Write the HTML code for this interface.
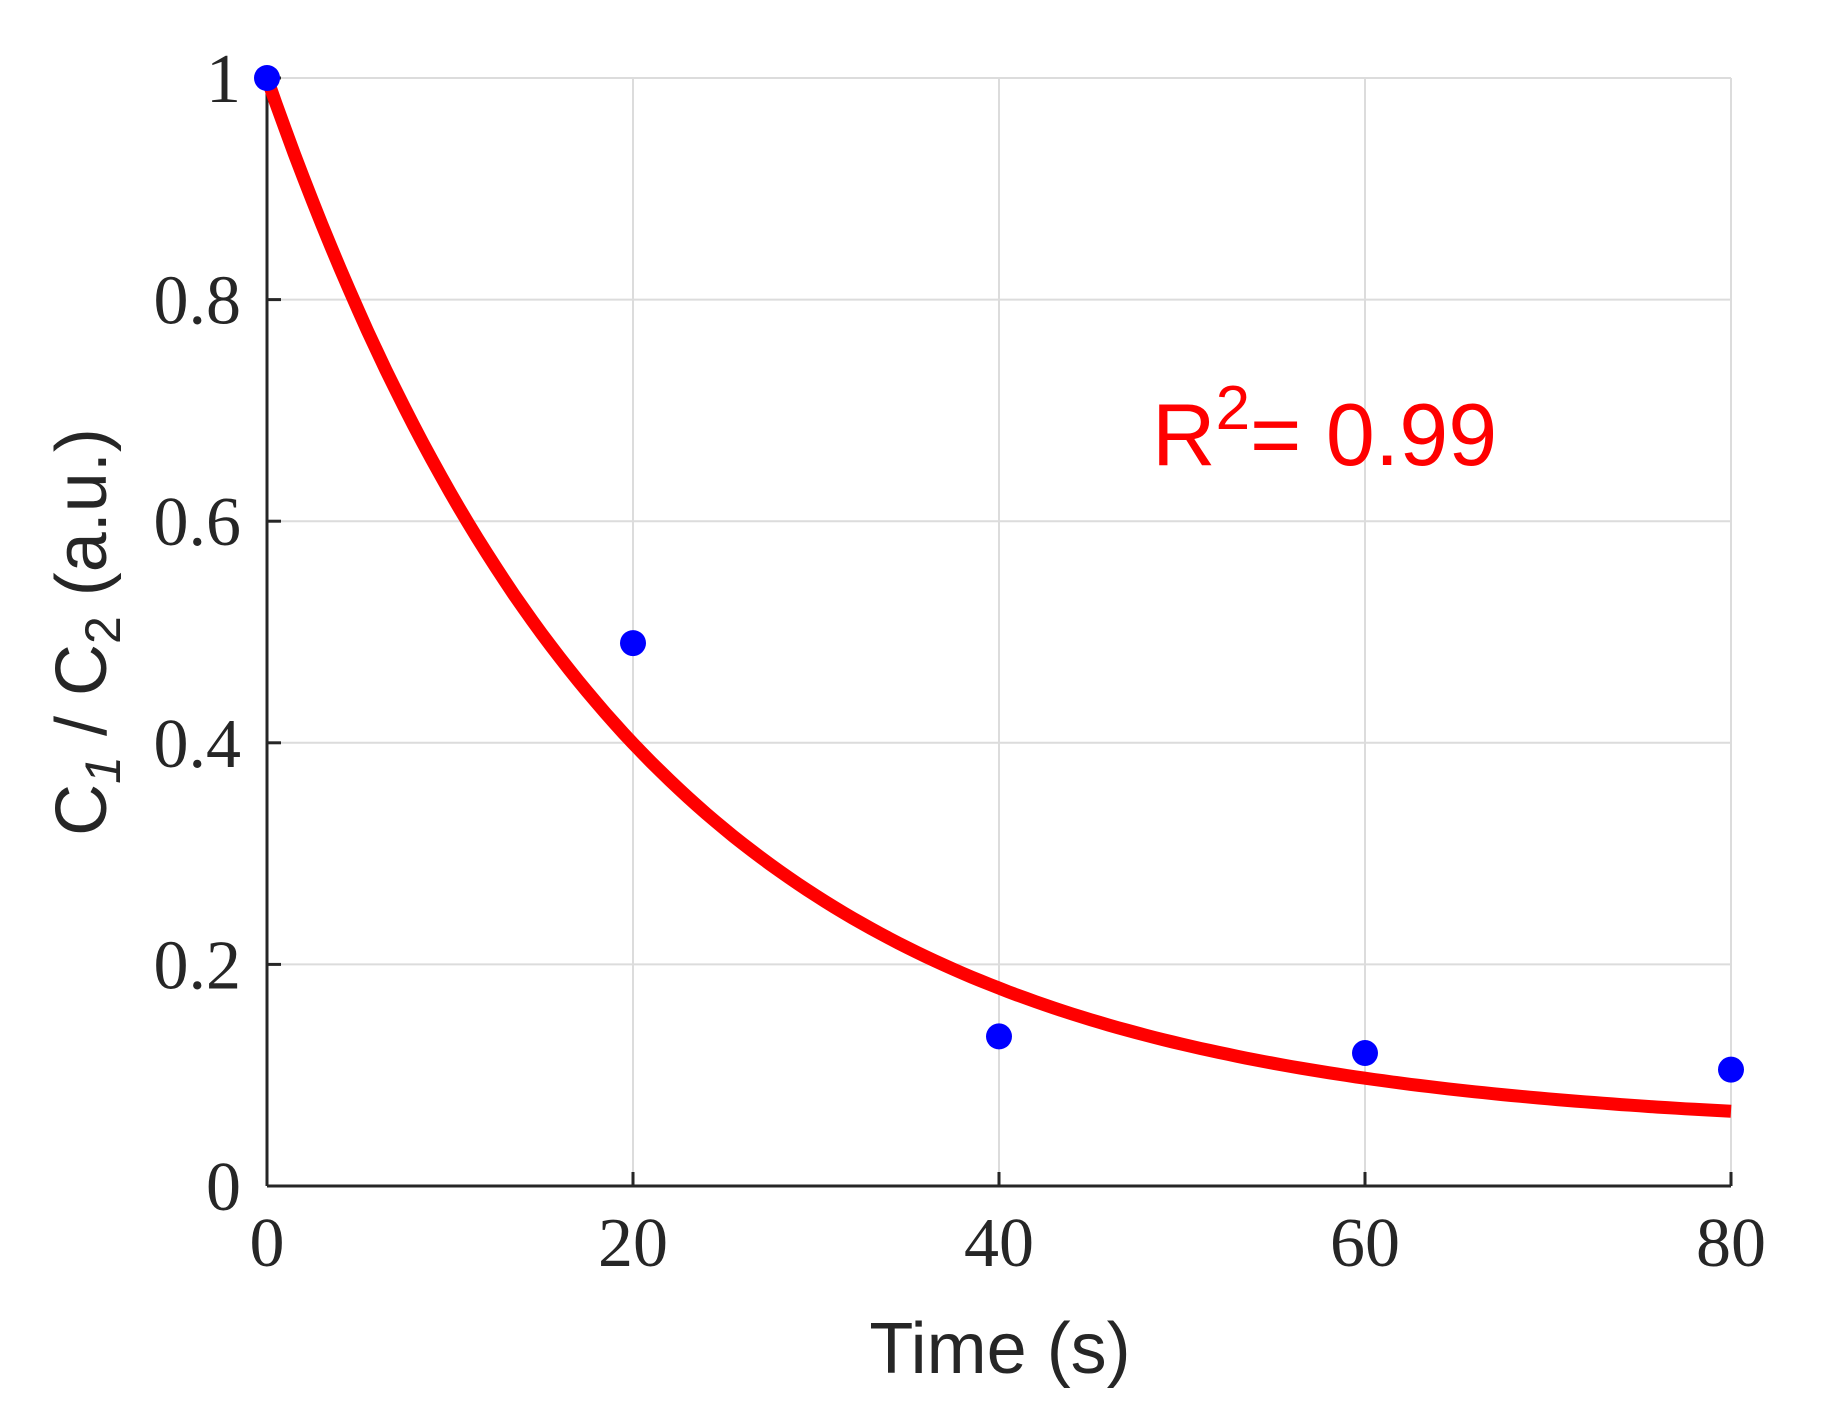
<!DOCTYPE html>
<html><head><meta charset="utf-8"><style>
html,body{margin:0;padding:0;background:#fff;}
svg{display:block;}
.tick{font-family:"Liberation Serif",serif;font-size:70px;fill:#262626;}
.lab{font-family:"Liberation Sans",sans-serif;font-size:72px;fill:#262626;}
</style></head><body>
<svg id="chart" width="1822" height="1414" viewBox="0 0 1822 1414" xmlns="http://www.w3.org/2000/svg">
<g id="grid"></g>
<g id="axes"></g>
<g id="marks"></g>
<text x="1152" y="465" font-family="Liberation Sans, sans-serif" font-size="88" fill="#ff0000">R<tspan dy="-36" font-size="62">2</tspan><tspan dy="36">= 0.99</tspan></text>
<text class="lab" x="1000" y="1373" text-anchor="middle">Time (s)</text>
<text class="lab" transform="translate(106,632) rotate(-90)" text-anchor="middle">C<tspan dy="14" font-size="50" font-style="italic">1</tspan><tspan dy="-14"> / C</tspan><tspan dy="14" font-size="50">2</tspan><tspan dy="-14"> (a.u.)</tspan></text>
</svg>
<script>
const xTicks = [0, 20, 40, 60, 80];
const yTicks = [0, 0.2, 0.4, 0.6, 0.8, 1];
const yTickLabels = ["0", "0.2", "0.4", "0.6", "0.8", "1"];
const times = [0, 20, 40, 60, 80];
const ratios = [1, 0.49, 0.135, 0.12, 0.105];
const fitAmplitude = [0.95];
const fitRate = [0.05];
const fitOffset = [0.05];

const NS = "http://www.w3.org/2000/svg";
const X0 = 267, X1 = 1731, Y0 = 1186, Y1 = 78;
function sx(v){ return X0 + (v - 0) / (80 - 0) * (X1 - X0); }
function sy(v){ return Y0 - (v - 0) / (1 - 0) * (Y0 - Y1); }
function mk(tag, attrs, parent){ const e = document.createElementNS(NS, tag); for (const k in attrs) e.setAttribute(k, attrs[k]); parent.appendChild(e); return e; }

const grid = document.getElementById('grid'), axes = document.getElementById('axes'), marks = document.getElementById('marks');
xTicks.forEach(t => {
  const g = mk('line', {x1: sx(t), x2: sx(t), y1: Y1, y2: Y0, stroke: '#dcdcdc', 'stroke-width': 2}, grid);
  
  
  const tk = mk('line', {x1: sx(t), x2: sx(t), y1: Y0, y2: Y0 - 14, stroke: '#262626', 'stroke-width': 3}, axes);
  
  
  const lb = mk('text', {x: sx(t), y: 1266, 'text-anchor': 'middle', class: 'tick'}, axes);
  lb.textContent = t;
  
  
});
yTicks.forEach((t, i) => {
  const g = mk('line', {x1: X0, x2: X1, y1: sy(t), y2: sy(t), stroke: '#dcdcdc', 'stroke-width': 2}, grid);
  
  
  const tk = mk('line', {x1: X0, x2: X0 + 14, y1: sy(t), y2: sy(t), stroke: '#262626', 'stroke-width': 3}, axes);
  
  
  const lb = mk('text', {x: 241, y: sy(t) + 24, 'text-anchor': 'end', class: 'tick'}, axes);
  lb.textContent = yTickLabels[i];
  
  
});
const xa = mk('line', {x1: X0, x2: X1, y1: Y0, y2: Y0, stroke: '#262626', 'stroke-width': 3}, axes);


const ya = mk('line', {x1: X0, x2: X0, y1: Y0, y2: Y1, stroke: '#262626', 'stroke-width': 3}, axes);



let d = '';
for (let t = 0; t <= 80; t += 0.5) {
  const v = fitOffset[0] + fitAmplitude[0] * Math.exp(-fitRate[0] * t);
  d += (t === 0 ? 'M' : 'L') + sx(t).toFixed(1) + ',' + sy(v).toFixed(1);
}
const curve = mk('path', {d: d, fill: 'none', stroke: '#ff0000', 'stroke-width': 13}, marks);


times.forEach((t, i) => {
  const c = mk('circle', {cx: sx(t), cy: sy(ratios[i]), r: 13, fill: '#0000ff'}, marks);
  
  
});
</script>
</body></html>
